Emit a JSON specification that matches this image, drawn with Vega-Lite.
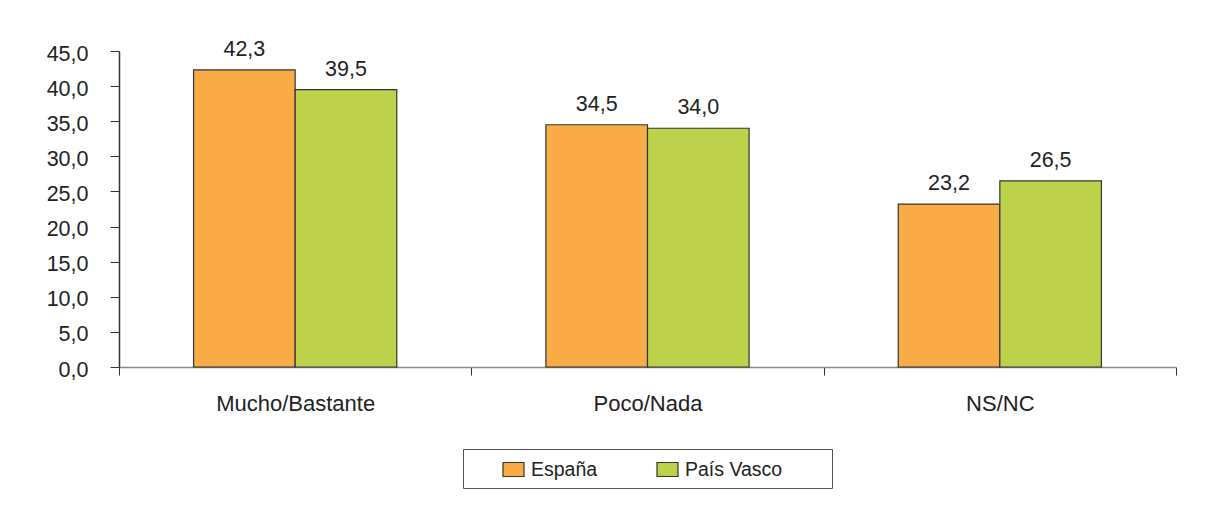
{
  "$schema": "https://vega.github.io/schema/vega-lite/v6.json",
  "autosize": {"type": "none"},
  "width": 1057,
  "height": 316,
  "padding": {"left": 119, "top": 51, "right": 34, "bottom": 142},
  "background": "white",
  "config": {
    "view": {"stroke": null},
    "font": "Liberation Sans",
    "text": {"font": "Liberation Sans"},
    "locale": {
      "number": {"decimal": ",", "thousands": ".", "grouping": [3], "currency": ["", " €"]}
    }
  },
  "data": {
    "values": [
      {"cat": "Mucho/Bastante", "region": "España", "value": 42.3},
      {"cat": "Mucho/Bastante", "region": "País Vasco", "value": 39.5},
      {"cat": "Poco/Nada", "region": "España", "value": 34.5},
      {"cat": "Poco/Nada", "region": "País Vasco", "value": 34.0},
      {"cat": "NS/NC", "region": "España", "value": 23.2},
      {"cat": "NS/NC", "region": "País Vasco", "value": 26.5}
    ]
  },
  "encoding": {
    "x": {
      "field": "cat",
      "type": "nominal",
      "sort": ["Mucho/Bastante", "Poco/Nada", "NS/NC"],
      "scale": {"paddingInner": 0, "paddingOuter": 0},
      "axis": {
        "title": null,
        "labelAngle": 0,
        "labelFontSize": 22,
        "labelColor": "#222",
        "labelPadding": 18,
        "tickBand": "extent",
        "tickSize": 8,
        "tickColor": "#333",
        "domainColor": "#888",
        "domainWidth": 1.5
      }
    },
    "xOffset": {
      "field": "region",
      "type": "nominal",
      "scale": {"paddingOuter": 0.734, "paddingInner": 0}
    },
    "y": {
      "field": "value",
      "type": "quantitative",
      "scale": {"domain": [0, 45], "nice": false},
      "axis": {
        "title": null,
        "values": [0, 5, 10, 15, 20, 25, 30, 35, 40, 45],
        "grid": false,
        "format": ".1f",
        "labelFontSize": 21.5,
        "labelColor": "#222",
        "labelPadding": 22,
        "labelOffset": 3,
        "tickSize": 9,
        "tickColor": "#333",
        "domainColor": "#333",
        "domainWidth": 1.5
      }
    }
  },
  "layer": [
    {
      "mark": {"type": "bar", "stroke": "#333", "strokeWidth": 1.2},
      "encoding": {
        "color": {
          "field": "region",
          "type": "nominal",
          "scale": {"domain": ["España", "País Vasco"], "range": ["#F9AC45", "#BDD24A"]},
          "legend": {
            "title": "\u00a0",
            "titleOrient": "right",
            "titlePadding": 41,
            "orient": "none",
            "legendX": 344,
            "legendY": 398,
            "direction": "horizontal",
            "padding": 9,
            "symbolOffset": 30,
            "strokeColor": "#555",
            "fillColor": "white",
            "labelFontSize": 19.5,
            "labelColor": "#222",
            "labelOffset": 6,
            "columnPadding": 28,
            "symbolType": "M-1,-0.667H1V0.667H-1Z",
            "symbolSize": 441,
            "symbolStrokeColor": "#333",
            "symbolStrokeWidth": 1.2
          }
        }
      }
    },
    {
      "mark": {"type": "text", "baseline": "bottom", "dy": -9, "fontSize": 21.5, "color": "#222"},
      "encoding": {
        "text": {"field": "value", "type": "quantitative", "format": ".1f"}
      }
    }
  ]
}
